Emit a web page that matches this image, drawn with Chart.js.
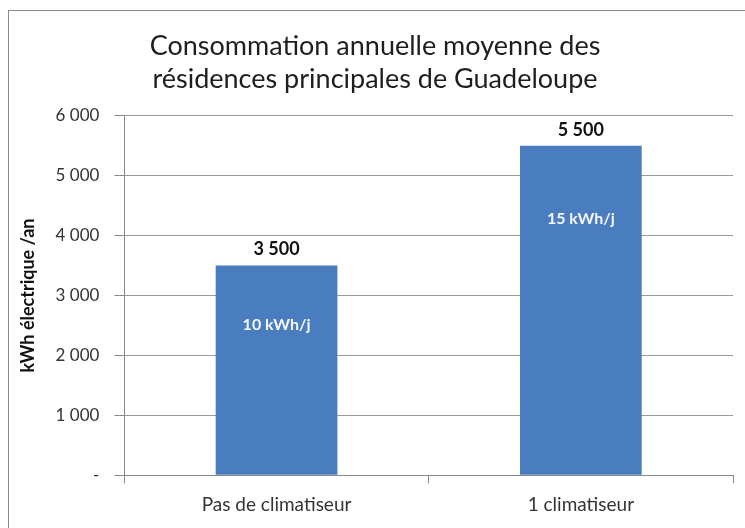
<!DOCTYPE html>
<html>
<head>
<meta charset="utf-8">
<script src="https://cdn.jsdelivr.net/npm/chart.js@4.4.0/dist/chart.umd.min.js"></script>
<style>
  html, body { margin: 0; padding: 0; background: #fff; overflow: hidden; }
  #wrap { position: relative; width: 745px; height: 528px; }
  #frame { position: absolute; left: 8px; top: 10px; width: 760px; height: 540px; border: 1px solid #8a8a8a; box-sizing: border-box; }
  canvas { position: absolute; left: 0; top: 0; }
</style>
</head>
<body>
<div id="wrap">
  <div id="frame"></div>
  <canvas id="consoChart" width="745" height="528"></canvas>
</div>
<script>
// données
const categories = ['Pas de climatiseur', '1 climatiseur'];
const consommation = [3500, 5500];
const consoJour = ['10 kWh/j', '15 kWh/j'];
const yTicks = [0, 1000, 2000, 3000, 4000, 5000, 6000];

function formatFr(v) {
    if (v === 0) return '-';
    return String(v).replace(/\B(?=(\d{3})+(?!\d))/g, ' ');
}

// étiquettes au-dessus et dans les barres
const etiquettes = {
    id: 'etiquettes',
    afterDatasetsDraw(chart) {
        const ctx = chart.ctx;
        const meta = chart.getDatasetMeta(0);
        const decalage = [59, 73];
        ctx.save();
        ctx.textAlign = 'center';
        ctx.textBaseline = 'middle';
        meta.data.forEach((bar, i) => {
            ctx.fillStyle = '#111';
            ctx.font = 'bold 18px Lato';
            ctx.fillText(formatFr(consommation[i]), bar.x, bar.y - 16);
            ctx.fillStyle = '#f4f6fb';
            ctx.font = 'bold 16px Lato';
            ctx.fillText(consoJour[i], bar.x, bar.y + decalage[i]);
        });
        ctx.restore();
    }
};

const ctx = document.getElementById('consoChart').getContext('2d');
new Chart(ctx, {
    type: 'bar',
    data: {
        labels: categories,
        datasets: [{
            data: consommation,
            backgroundColor: '#4a7dbf',
            borderWidth: 0,
            barPercentage: 0.8,
            categoryPercentage: 0.5
        }]
    },
    options: {
        responsive: false,
        animation: false,
        layout: { padding: { left: 17, right: 12, top: 20, bottom: 2 } },
        plugins: {
            legend: { display: false },
            tooltip: { enabled: false },
            title: {
                display: true,
                text: ['Consommation annuelle moyenne des', 'résidences principales de Guadeloupe'],
                color: '#1e1e1e',
                font: { family: 'Lato', size: 27, weight: 'normal', lineHeight: 1.22 },
                padding: { top: 10, bottom: 20 }
            }
        },
        scales: {
            y: {
                min: 0,
                max: 6000,
                afterBuildTicks(axis) { axis.ticks = yTicks.map(v => ({ value: v })); },
                ticks: {
                    color: '#333',
                    font: { family: 'Lato', size: 17 },
                    padding: 15,
                    callback: v => formatFr(v)
                },
                grid: { color: '#999', tickLength: 10, tickColor: '#888' },
                border: { color: '#888' },
                title: {
                    display: true,
                    text: 'kWh électrique /an',
                    color: '#111',
                    font: { family: 'Lato', size: 18, weight: 'bold' },
                    padding: { top: 0, bottom: 2 }
                }
            },
            x: {
                ticks: {
                    color: '#333',
                    font: { family: 'Lato', size: 19 },
                    padding: 10
                },
                grid: { offset: true, drawOnChartArea: false, tickLength: 8, tickColor: '#888' },
                border: { color: '#888' }
            }
        }
    },
    plugins: [etiquettes]
});
</script>
</body>
</html>
